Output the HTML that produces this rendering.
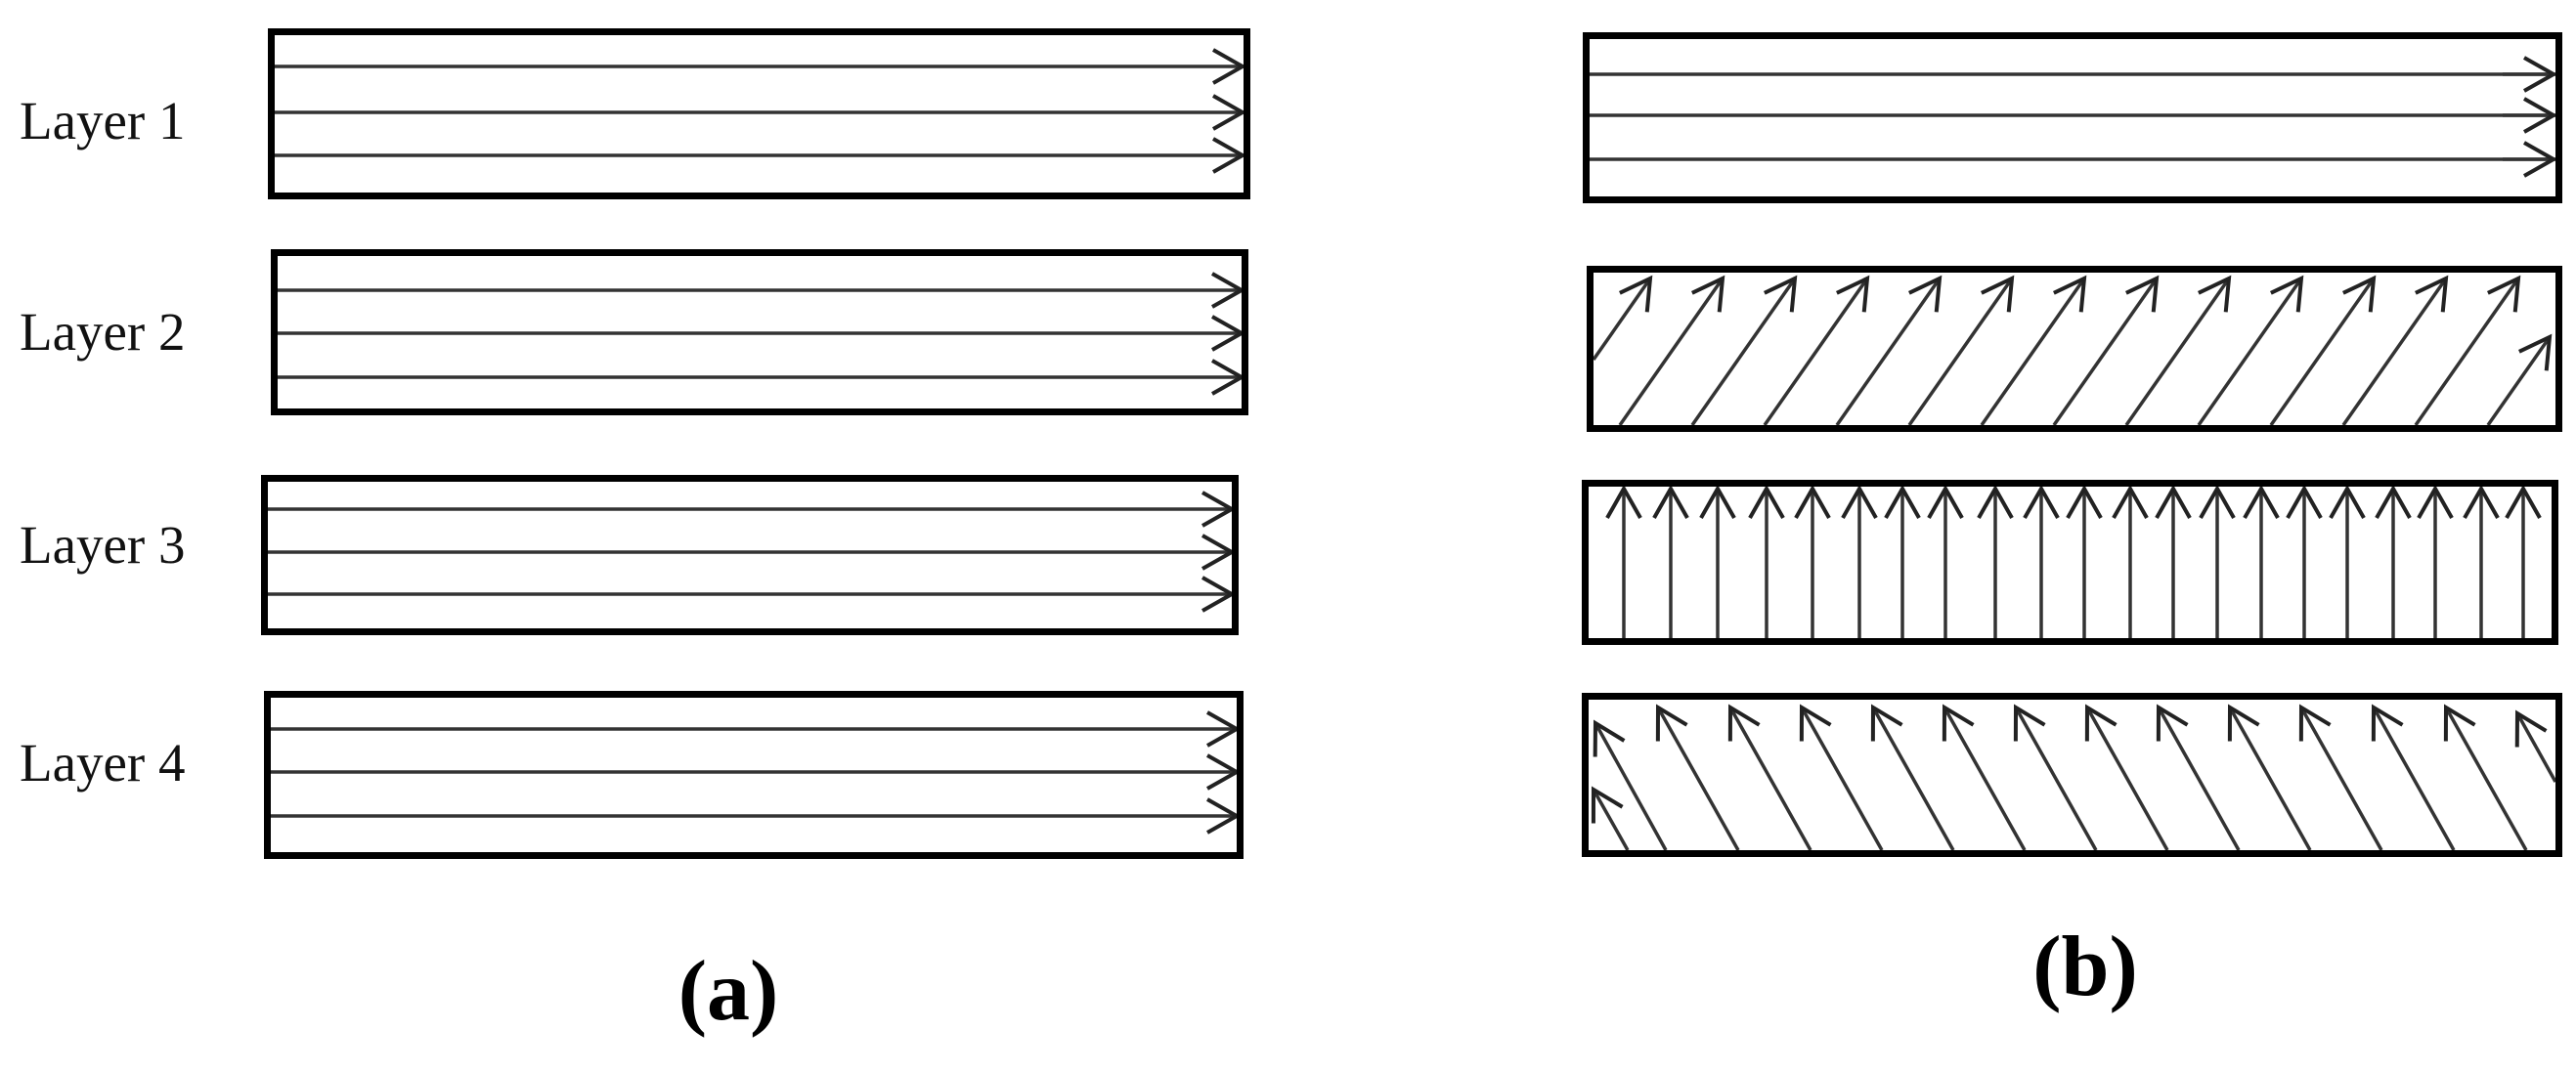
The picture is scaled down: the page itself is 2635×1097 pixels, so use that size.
<!DOCTYPE html>
<html><head><meta charset="utf-8"><style>
html,body{margin:0;padding:0;background:#fff}
svg{display:block}
</style></head><body>
<svg width="2635" height="1097" viewBox="0 0 2635 1097" xmlns="http://www.w3.org/2000/svg">
<defs>
<marker id="ar" markerUnits="userSpaceOnUse" markerWidth="40" markerHeight="44" viewBox="-34 -22 40 44" refX="0" refY="0" orient="auto" overflow="visible">
<path d="M-30,-17 L0,0 L-30,17" fill="none" stroke="#222" stroke-width="4"/>
</marker>
</defs>
<g font-family="'Liberation Serif', serif" font-size="55" fill="#111">
<text x="20" y="142">Layer 1</text>
<text x="20" y="358">Layer 2</text>
<text x="20" y="576">Layer 3</text>
<text x="20" y="799">Layer 4</text>
</g>
<g font-family="'Liberation Serif', serif" font-size="88" font-weight="bold" fill="#000" text-anchor="middle">
<text x="745" y="1043">(a)</text>
<text x="2133" y="1018">(b)</text>
</g>
<g stroke="#333" stroke-width="3.5" marker-end="url(#ar)" fill="none">
<line x1="281" y1="68" x2="1271" y2="68"/><line x1="281" y1="115" x2="1271" y2="115"/><line x1="281" y1="159" x2="1271" y2="159"/>
<line x1="284" y1="297" x2="1270" y2="297"/><line x1="284" y1="341" x2="1270" y2="341"/><line x1="284" y1="386" x2="1270" y2="386"/>
<line x1="274" y1="521" x2="1260" y2="521"/><line x1="274" y1="565" x2="1260" y2="565"/><line x1="274" y1="608" x2="1260" y2="608"/>
<line x1="277" y1="746" x2="1265" y2="746"/><line x1="277" y1="790" x2="1265" y2="790"/><line x1="277" y1="835" x2="1265" y2="835"/>
</g>
<g stroke="#333" stroke-width="3.5" fill="none">
<line x1="1626" y1="76" x2="2614" y2="76"/><line x1="1626" y1="118" x2="2614" y2="118"/><line x1="1626" y1="163" x2="2614" y2="163"/>
</g>
<g stroke="#333" stroke-width="3.5" marker-end="url(#ar)" fill="none">
<line x1="2560" y1="76" x2="2612" y2="76"/><line x1="2560" y1="118" x2="2612" y2="118"/><line x1="2560" y1="163" x2="2612" y2="163"/>
<!-- box2 diagonal up-right -->
<line x1="1630" y1="368" x2="1688" y2="285"/>
<line x1="1657" y1="435" x2="1762" y2="285"/>
<line x1="1731" y1="435" x2="1836" y2="285"/>
<line x1="1805" y1="435" x2="1910" y2="285"/>
<line x1="1879" y1="435" x2="1984" y2="285"/>
<line x1="1953" y1="435" x2="2058" y2="285"/>
<line x1="2027" y1="435" x2="2132" y2="285"/>
<line x1="2101" y1="435" x2="2206" y2="285"/>
<line x1="2175" y1="435" x2="2280" y2="285"/>
<line x1="2249" y1="435" x2="2354" y2="285"/>
<line x1="2323" y1="435" x2="2428" y2="285"/>
<line x1="2397" y1="435" x2="2502" y2="285"/>
<line x1="2471" y1="435" x2="2576" y2="285"/>
<line x1="2545" y1="435" x2="2608" y2="345"/>
<!-- box3 vertical -->
<line x1="1661" y1="653" x2="1661" y2="500"/><line x1="1709" y1="653" x2="1709" y2="500"/>
<line x1="1757" y1="653" x2="1757" y2="500"/><line x1="1807" y1="653" x2="1807" y2="500"/>
<line x1="1854" y1="653" x2="1854" y2="500"/><line x1="1902" y1="653" x2="1902" y2="500"/>
<line x1="1946" y1="653" x2="1946" y2="500"/><line x1="1990" y1="653" x2="1990" y2="500"/>
<line x1="2041" y1="653" x2="2041" y2="500"/><line x1="2088" y1="653" x2="2088" y2="500"/>
<line x1="2132" y1="653" x2="2132" y2="500"/><line x1="2179" y1="653" x2="2179" y2="500"/>
<line x1="2223" y1="653" x2="2223" y2="500"/><line x1="2268" y1="653" x2="2268" y2="500"/>
<line x1="2313" y1="653" x2="2313" y2="500"/><line x1="2357" y1="653" x2="2357" y2="500"/>
<line x1="2401" y1="653" x2="2401" y2="500"/><line x1="2448" y1="653" x2="2448" y2="500"/>
<line x1="2491" y1="653" x2="2491" y2="500"/><line x1="2538" y1="653" x2="2538" y2="500"/>
<line x1="2581" y1="653" x2="2581" y2="500"/>
<!-- box4 diagonal up-left -->
<line x1="1665" y1="870" x2="1630" y2="808"/>
<line x1="1704" y1="870" x2="1632" y2="740"/>
<line x1="1778" y1="870" x2="1696" y2="724"/>
<line x1="1852" y1="870" x2="1770" y2="724"/>
<line x1="1925" y1="870" x2="1843" y2="724"/>
<line x1="1998" y1="870" x2="1916" y2="724"/>
<line x1="2071" y1="870" x2="1989" y2="724"/>
<line x1="2144" y1="870" x2="2062" y2="724"/>
<line x1="2217" y1="870" x2="2135" y2="724"/>
<line x1="2290" y1="870" x2="2208" y2="724"/>
<line x1="2363" y1="870" x2="2281" y2="724"/>
<line x1="2436" y1="870" x2="2354" y2="724"/>
<line x1="2510" y1="870" x2="2428" y2="724"/>
<line x1="2584" y1="870" x2="2502" y2="724"/>
<line x1="2614" y1="800" x2="2575" y2="730"/>
</g>
<g fill="none" stroke="#000" stroke-width="7">
<rect x="277.5" y="32.5" width="998" height="168"/>
<rect x="280.5" y="258.5" width="993" height="163"/>
<rect x="270.5" y="489.5" width="993" height="157"/>
<rect x="273.5" y="710.5" width="995" height="165"/>
<rect x="1622.5" y="36.5" width="995" height="168"/>
<rect x="1626.5" y="275.5" width="991" height="163"/>
<rect x="1621.5" y="494.5" width="992" height="162"/>
<rect x="1621.5" y="712.5" width="996" height="161"/>
</g>
</svg>
</body></html>
